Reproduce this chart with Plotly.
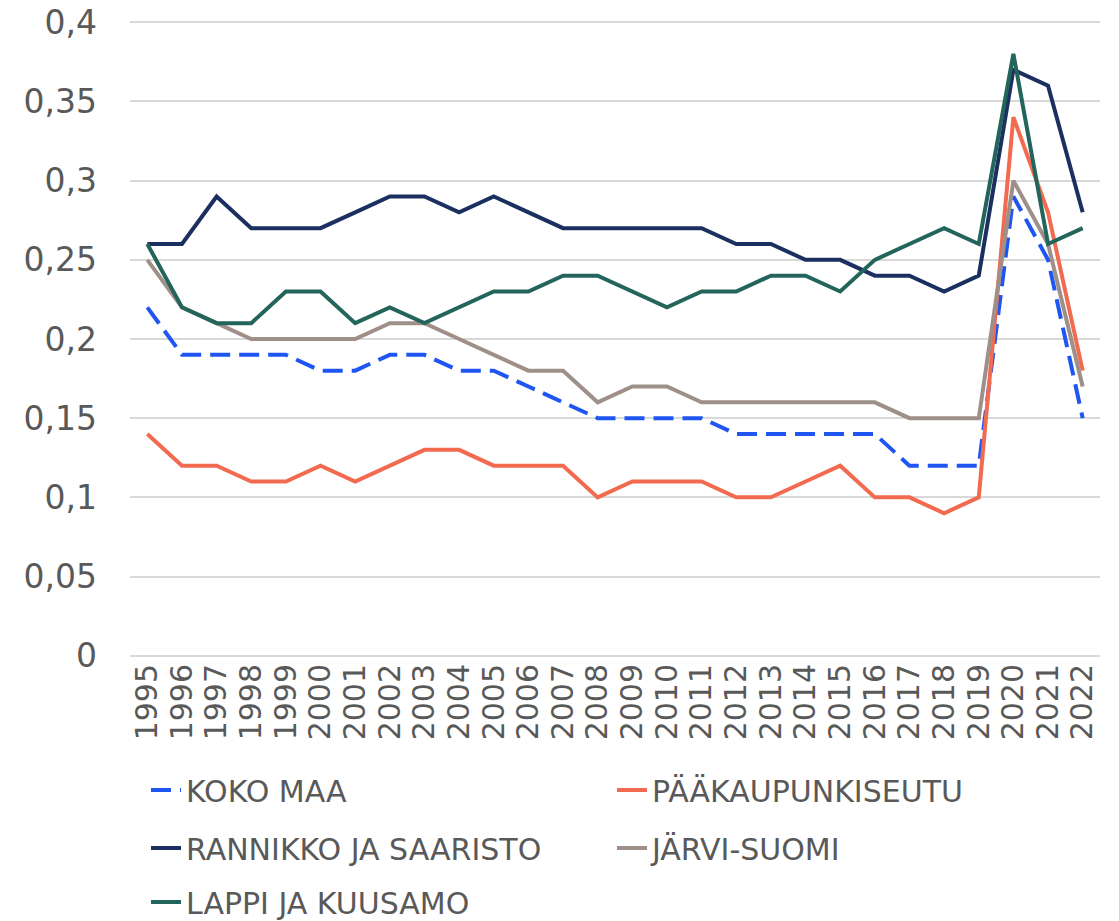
import plotly.graph_objects as go

years = list(range(1995, 2023))
koko_maa = [0.22, 0.19, 0.19, 0.19, 0.19, 0.18, 0.18, 0.19, 0.19, 0.18, 0.18, 0.17, 0.16, 0.15,
            0.15, 0.15, 0.15, 0.14, 0.14, 0.14, 0.14, 0.14, 0.12, 0.12, 0.12, 0.29, 0.25, 0.15]
paakaupunkiseutu = [0.14, 0.12, 0.12, 0.11, 0.11, 0.12, 0.11, 0.12, 0.13, 0.13, 0.12, 0.12, 0.12, 0.10,
                    0.11, 0.11, 0.11, 0.10, 0.10, 0.11, 0.12, 0.10, 0.10, 0.09, 0.10, 0.34, 0.28, 0.18]
rannikko = [0.26, 0.26, 0.29, 0.27, 0.27, 0.27, 0.28, 0.29, 0.29, 0.28, 0.29, 0.28, 0.27, 0.27,
            0.27, 0.27, 0.27, 0.26, 0.26, 0.25, 0.25, 0.24, 0.24, 0.23, 0.24, 0.37, 0.36, 0.28]
jarvi_suomi = [0.25, 0.22, 0.21, 0.20, 0.20, 0.20, 0.20, 0.21, 0.21, 0.20, 0.19, 0.18, 0.18, 0.16,
               0.17, 0.17, 0.16, 0.16, 0.16, 0.16, 0.16, 0.16, 0.15, 0.15, 0.15, 0.30, 0.26, 0.17]
lappi = [0.26, 0.22, 0.21, 0.21, 0.23, 0.23, 0.21, 0.22, 0.21, 0.22, 0.23, 0.23, 0.24, 0.24,
         0.23, 0.22, 0.23, 0.23, 0.24, 0.24, 0.23, 0.25, 0.26, 0.27, 0.26, 0.38, 0.26, 0.27]

y_tickvals = [0, 0.05, 0.1, 0.15, 0.2, 0.25, 0.3, 0.35, 0.4]
y_ticktext = ["0", "0,05", "0,1", "0,15", "0,2", "0,25", "0,3", "0,35", "0,4"]

series = [
    ("KOKO MAA", koko_maa, "#1f56f2", "20px,9px", "legend"),
    ("PÄÄKAUPUNKISEUTU", paakaupunkiseutu, "#f26a4f", "solid", "legend"),
    ("RANNIKKO JA SAARISTO", rannikko, "#1b2f60", "solid", "legend2"),
    ("JÄRVI-SUOMI", jarvi_suomi, "#9e9089", "solid", "legend2"),
    ("LAPPI JA KUUSAMO", lappi, "#23645b", "solid", "legend3"),
]

fig = go.Figure()
for name, vals, color, dash, leg in series:
    fig.add_trace(go.Scatter(
        x=years, y=vals, name=name, mode="lines",
        line=dict(color=color, width=4, dash=dash),
        legend=leg,
    ))

font_main = "DejaVu Sans, Liberation Sans, Arial, sans-serif"
txt = "#595959"

W, H = 1119, 921

def leg(ypx):
    return dict(
        orientation="h", xref="container", yref="container",
        x=146 / W, y=1 - ypx / H, xanchor="left", yanchor="middle",
        entrywidth=421, entrywidthmode="pixels",
        font=dict(family=font_main, size=30, color=txt),
        bgcolor="rgba(0,0,0,0)", itemclick=False,
    )

fig.update_layout(
    width=W, height=H,
    margin=dict(l=130, r=19, t=21, b=264, autoexpand=False),
    paper_bgcolor="white", plot_bgcolor="white",
    showlegend=True,
    legend=leg(790), legend2=leg(848), legend3=leg(902),
    xaxis=dict(
        range=[1994.5, 2022.5], tickmode="array", tickvals=years,
        ticktext=[str(y) for y in years], tickangle=-90,
        tickfont=dict(family=font_main, size=30, color=txt),
        showgrid=False, zeroline=False, showline=False, ticks="",
        automargin=False, fixedrange=True,
    ),
    yaxis=dict(
        range=[-0.0008, 0.4008], tickmode="array", tickvals=y_tickvals, ticktext=y_ticktext,
        tickfont=dict(family=font_main, size=33, color=txt),
        showgrid=True, gridcolor="#d9d9d9", gridwidth=1.5,
        zeroline=True, zerolinecolor="#d9d9d9", zerolinewidth=1.5,
        showline=False, ticks="", ticklabelstandoff=32,
        ticklabeloverflow="allow",
        automargin=False, fixedrange=True,
    ),
)

fig.write_html("out.html", config={"displayModeBar": False},
               post_script="document.body.style.margin='0';")
